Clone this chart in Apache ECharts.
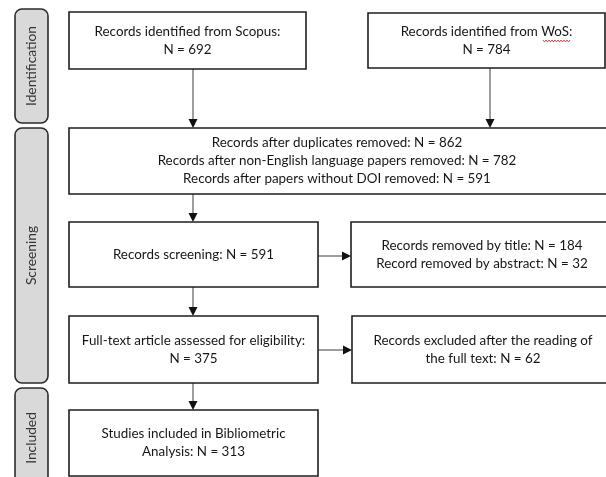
<!DOCTYPE html>
<html>
<head>
<meta charset="utf-8">
<script src="https://cdn.jsdelivr.net/npm/echarts@6/dist/echarts.min.js"></script>
<style>
html,body{margin:0;padding:0;background:#fff;}
#chart{width:606px;height:477px;}
</style>
</head>
<body>
<div id="chart"></div>
<script>
// ---- data ----
const stages = ['Identification', 'Screening', 'Included'];
const counts = {
  scopus: 692, wos: 784,
  dedup: 862, english: 782, doi: 591,
  screening: 591, byTitle: 184, byAbstract: 32,
  fullText: 375, excluded: 62, included: 313
};
const boxTexts = [
  'Records identified from Scopus:\nN = ' + counts.scopus,
  'Records identified from WoS:\nN = ' + counts.wos,
  'Records after duplicates removed: N = ' + counts.dedup +
    '\nRecords after non-English language papers removed: N = ' + counts.english +
    '\nRecords after papers without DOI removed: N = ' + counts.doi,
  'Records screening: N = ' + counts.screening,
  'Records removed by title: N = ' + counts.byTitle +
    '\nRecord removed by abstract: N = ' + counts.byAbstract,
  'Full-text article assessed for eligibility:\nN = ' + counts.fullText,
  'Records excluded after the reading of\nthe full text: N = ' + counts.excluded,
  'Studies included in Bibliometric\nAnalysis: N = ' + counts.included
];
// links between boxes: [from, to]
const links = [[0, 2], [1, 2], [2, 3], [3, 4], [3, 5], [5, 6], [5, 7]];

// ---- layout (positions in diagram units) ----
const stageLayout = [
  [15, 9, 33, 114],
  [15, 128, 33, 255],
  [15, 388, 33, 100]
];
const boxLayout = [
  [69, 12, 237, 57],
  [368, 13, 237, 55],
  [69, 128, 545, 66],
  [69, 222, 249, 65],
  [351, 222, 262, 65],
  [69, 316, 249, 67],
  [352, 316, 262, 67],
  [69, 410, 249, 66]
];
const linkLayout = [
  [193, 69, 193, 128],
  [490, 68, 490, 128],
  [193, 194, 193, 222],
  [318, 256, 351, 256],
  [193, 287, 193, 316],
  [318, 350, 352, 350],
  [193, 383, 193, 410]
];
// spell-check underline under "WoS" : [x1, x2, y]
const squiggleLayout = [543, 570, 41];

const FONT = 'Lato, "Open Sans", sans-serif';

const chart = echarts.init(document.getElementById('chart'), null, {renderer: 'canvas'});

function rectFrom(api) {
  const p0 = api.coord([api.value(0), api.value(1)]);
  const p1 = api.coord([api.value(0) + api.value(2), api.value(1) + api.value(3)]);
  return {x: p0[0], y: p0[1], w: p1[0] - p0[0], h: p1[1] - p0[1]};
}

const option = {
  animation: false,
  backgroundColor: '#ffffff',
  grid: {left: 0, right: 0, top: 0, bottom: 0},
  xAxis: {type: 'value', min: 0, max: 606, show: false},
  yAxis: {type: 'value', min: 0, max: 477, inverse: true, show: false},
  series: [
    {
      name: 'stages',
      type: 'custom',
      clip: false,
      data: stageLayout,
      renderItem: function (params, api) {
        const r = rectFrom(api);
        return {
          type: 'group',
          children: [
            {
              type: 'rect',
              shape: {x: r.x, y: r.y, width: r.w, height: r.h, r: 7},
              style: {fill: '#d9d9d9', stroke: '#2b2b2b', lineWidth: 1.6}
            },
            {
              type: 'text',
              x: r.x + r.w / 2,
              y: r.y + r.h / 2,
              rotation: Math.PI / 2,
              style: {
                text: stages[params.dataIndex],
                fill: '#333333',
                font: '13.8px ' + FONT,
                align: 'center',
                verticalAlign: 'middle'
              }
            }
          ]
        };
      }
    },
    {
      name: 'links',
      type: 'custom',
      clip: false,
      data: linkLayout,
      renderItem: function (params, api) {
        const a = api.coord([api.value(0), api.value(1)]);
        const b = api.coord([api.value(2), api.value(3)]);
        const dx = b[0] - a[0], dy = b[1] - a[1];
        const len = Math.sqrt(dx * dx + dy * dy);
        const ux = dx / len, uy = dy / len;
        const hl = 9, hw = 4.5;
        const base = [b[0] - ux * hl, b[1] - uy * hl];
        return {
          type: 'group',
          children: [
            {
              type: 'line',
              shape: {x1: a[0], y1: a[1], x2: base[0], y2: base[1]},
              style: {stroke: '#3c3c3c', lineWidth: 1}
            },
            {
              type: 'polygon',
              shape: {points: [
                [b[0], b[1]],
                [base[0] - uy * hw, base[1] + ux * hw],
                [base[0] + uy * hw, base[1] - ux * hw]
              ]},
              style: {fill: '#111111'}
            }
          ]
        };
      }
    },
    {
      name: 'boxes',
      type: 'custom',
      clip: false,
      data: boxLayout,
      renderItem: function (params, api) {
        const r = rectFrom(api);
        return {
          type: 'group',
          children: [
            {
              type: 'rect',
              shape: {x: r.x, y: r.y, width: r.w, height: r.h},
              style: {fill: '#ffffff', stroke: '#1e1e1e', lineWidth: 1.6}
            },
            {
              type: 'text',
              x: params.dataIndex === 2 ? r.x + 268 : r.x + r.w / 2,
              y: r.y + r.h / 2,
              style: {
                text: boxTexts[params.dataIndex],
                fill: '#161616',
                font: '13.4px ' + FONT,
                lineHeight: 18,
                align: 'center',
                verticalAlign: 'middle'
              }
            }
          ]
        };
      }
    },
    {
      name: 'spellcheck',
      type: 'custom',
      clip: false,
      data: [squiggleLayout],
      renderItem: function (params, api) {
        const a = api.coord([api.value(0), api.value(2)]);
        const b = api.coord([api.value(1), api.value(2)]);
        const pts = [];
        let up = true;
        for (let x = a[0]; x <= b[0]; x += 1.5) {
          pts.push([x, a[1] + (up ? -0.9 : 0.9)]);
          up = !up;
        }
        return {
          type: 'polyline',
          shape: {points: pts},
          style: {stroke: '#d42020', lineWidth: 0.9, fill: null}
        };
      }
    }
  ]
};
chart.setOption(option);
</script>
</body>
</html>
